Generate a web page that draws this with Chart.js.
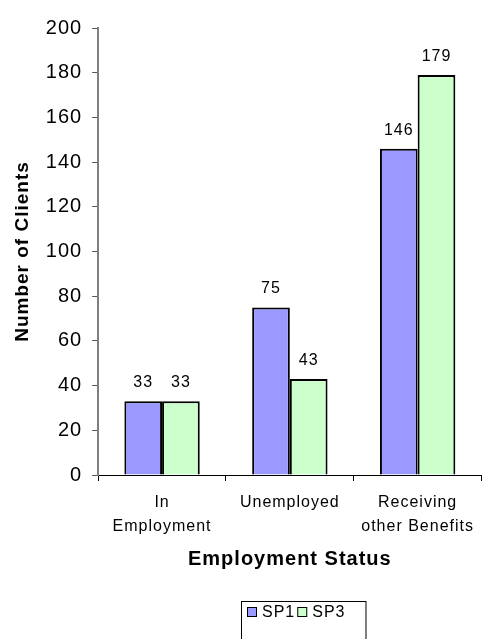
<!DOCTYPE html>
<html>
<head>
<meta charset="utf-8">
<script src="https://cdn.jsdelivr.net/npm/chart.js@4/dist/chart.umd.min.js"></script>
<style>
  html, body { margin: 0; padding: 0; background: #fff; }
  #wrap { width: 484px; height: 639px; }
</style>
</head>
<body>
<div id="wrap"><canvas id="chart" width="484" height="639"></canvas></div>
<script>
const categories = [['In', 'Employment'], 'Unemployed', ['Receiving', 'other Benefits']];
const sp1Values = [33, 75, 146];
const sp3Values = [33, 43, 179];
const seriesNames = ['SP1', 'SP3'];
const seriesColors = ['#9999FF', '#CCFFCC'];

const fontFamily = '"Liberation Sans", Arial, sans-serif';

// the original text is a little spaced out
const spacing = {
  id: 'spacing',
  beforeUpdate(chart) { chart.ctx.letterSpacing = '1px'; },
  beforeDraw(chart) { chart.ctx.letterSpacing = '1px'; }
};

// draws the value above each bar
const valueLabels = {
  id: 'valueLabels',
  afterDatasetsDraw(chart) {
    const ctx = chart.ctx;
    ctx.save();
    ctx.fillStyle = '#000';
    ctx.font = '16px ' + fontFamily;
    ctx.textAlign = 'center';
    ctx.textBaseline = 'alphabetic';
    chart.data.datasets.forEach((ds, i) => {
      chart.getDatasetMeta(i).data.forEach((bar, j) => {
        ctx.fillText(ds.data[j], bar.x, bar.y - 14);
      });
    });
    ctx.restore();
  }
};

// boxed legend under the plot, a bit right of centre like the original
const boxedLegend = {
  id: 'boxedLegend',
  afterDraw(chart) {
    const ctx = chart.ctx;
    const boxLeft = 241, boxTop = 601, rowY = 612;
    ctx.save();
    ctx.font = '16px ' + fontFamily;
    ctx.textBaseline = 'middle';
    ctx.textAlign = 'left';
    let x = boxLeft + 6;
    chart.data.datasets.forEach((ds) => {
      ctx.fillStyle = ds.backgroundColor;
      ctx.fillRect(x, rowY - 5, 10, 10);
      ctx.strokeStyle = '#000';
      ctx.lineWidth = 1;
      ctx.strokeRect(x + 0.5, rowY - 4.5, 9, 9);
      x += 15;
      ctx.fillStyle = '#000';
      ctx.fillText(ds.label, x, rowY + 1);
      x += ctx.measureText(ds.label).width + 2;
    });
    ctx.strokeStyle = '#000';
    ctx.lineWidth = 1;
    ctx.strokeRect(boxLeft + 0.5, boxTop + 0.5, x + 18 - boxLeft, 60);
    ctx.restore();
  }
};

const chart = new Chart(document.getElementById('chart'), {
  type: 'bar',
  data: {
    labels: categories,
    datasets: [
      {
        label: seriesNames[0],
        data: sp1Values,
        backgroundColor: seriesColors[0],
        borderColor: '#000',
        borderWidth: 2,
        categoryPercentage: 0.59,
        barPercentage: 1.0
      },
      {
        label: seriesNames[1],
        data: sp3Values,
        backgroundColor: seriesColors[1],
        borderColor: '#000',
        borderWidth: 2,
        categoryPercentage: 0.59,
        barPercentage: 1.0
      }
    ]
  },
  options: {
    responsive: false,
    animation: false,
    layout: { padding: { top: 28, right: 0, left: 8, bottom: 60 } },
    plugins: {
      tooltip: { enabled: false },
      legend: { display: false }
    },
    scales: {
      x: {
        offset: true,
        grid: {
          display: true,
          drawOnChartArea: false,
          drawTicks: true,
          tickLength: 6,
          color: '#000',
          offset: true
        },
        border: { color: '#000', width: 1 },
        ticks: {
          color: '#000',
          font: { family: fontFamily, size: 16, lineHeight: 1.5 },
          maxRotation: 0,
          padding: 10
        },
        title: {
          display: true,
          text: 'Employment Status',
          color: '#000',
          font: { family: fontFamily, size: 20, weight: 'bold', lineHeight: 1.0 },
          padding: { top: 0, bottom: 10 }
        }
      },
      y: {
        min: 0,
        max: 200,
        grid: {
          display: true,
          drawOnChartArea: false,
          drawTicks: true,
          tickLength: 6,
          color: '#555'
        },
        border: { color: '#808080', width: 2 },
        ticks: {
          stepSize: 20,
          color: '#000',
          font: { family: fontFamily, size: 20 },
          padding: 10
        },
        title: {
          display: true,
          text: 'Number of Clients',
          color: '#000',
          font: { family: fontFamily, size: 19, weight: 'bold' },
          padding: { top: 3, bottom: 2 }
        }
      }
    }
  },
  plugins: [spacing, valueLabels, boxedLegend]
});
</script>
</body>
</html>
